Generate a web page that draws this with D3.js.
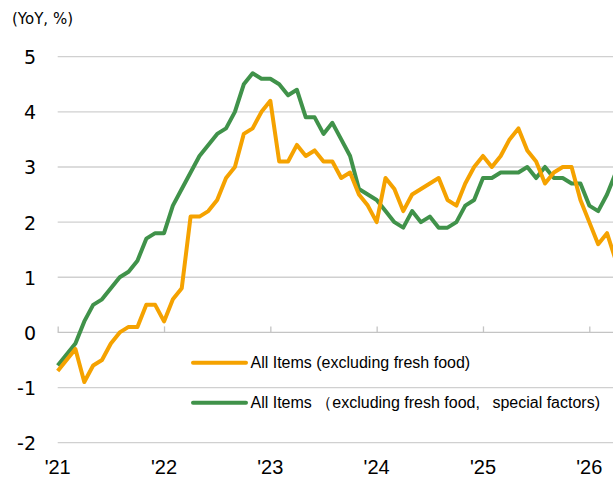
<!DOCTYPE html>
<html>
<head>
<meta charset="utf-8">
<script src="https://cdn.jsdelivr.net/npm/d3@7"></script>
<style>
  body { margin: 0; background: #fff; }
  svg { display: block; }
</style>
</head>
<body>
<svg></svg>
<script>
// monthly, Jan 2021 .. Apr 2026
const coreCPI = [
    -0.7, -0.5, -0.3, -0.9, -0.6, -0.5, -0.2, 0.0, 0.1, 0.1, 0.5, 0.5,
    0.2, 0.6, 0.8, 2.1, 2.1, 2.2, 2.4, 2.8, 3.0, 3.6, 3.7, 4.0,
    4.2, 3.1, 3.1, 3.4, 3.2, 3.3, 3.1, 3.1, 2.8, 2.9, 2.5, 2.3,
    2.0, 2.8, 2.6, 2.2, 2.5, 2.6, 2.7, 2.8, 2.4, 2.3, 2.7, 3.0,
    3.2, 3.0, 3.2, 3.5, 3.7, 3.3, 3.1, 2.7, 2.9, 3.0, 3.0, 2.4,
    2.0, 1.6, 1.8, 1.3
];
const coreExSpecial = [
    -0.6, -0.4, -0.2, 0.2, 0.5, 0.6, 0.8, 1.0, 1.1, 1.3, 1.7, 1.8,
    1.8, 2.3, 2.6, 2.9, 3.2, 3.4, 3.6, 3.7, 4.0, 4.5, 4.7, 4.6,
    4.6, 4.5, 4.3, 4.4, 3.9, 3.9, 3.6, 3.8, 3.5, 3.2, 2.6, 2.5,
    2.4, 2.2, 2.0, 1.9, 2.2, 2.0, 2.1, 1.9, 1.9, 2.0, 2.3, 2.4,
    2.8, 2.8, 2.9, 2.9, 2.9, 3.0, 2.8, 3.0, 2.8, 2.8, 2.7, 2.7,
    2.3, 2.2, 2.5, 2.9
];
const yearLabels = ["'21", "'22", "'23", "'24", "'25", "'26"];
const yTicks = [-2, -1, 0, 1, 2, 3, 4, 5];
const seriesNames = [
    "All Items (excluding fresh food)",
    "All Items （excluding fresh food, \u2002special factors)"
];

const W = 613, H = 477;
const left = 57.7, right = 613;
const orange = "#f5a200", green = "#40924a";

const svg = d3.select("svg").attr("width", W).attr("height", H);

const x = d3.scaleLinear().domain([0, 60]).range([left, 589.3]);
const y = d3.scaleLinear().domain([-2, 5]).range([442.7, 56.7]);

// gridlines
svg.append("g")
    .selectAll("line")
    .data(yTicks.filter(d => d !== 0))
    .enter().append("line")
    .attr("x1", left).attr("x2", right)
    .attr("y1", d => y(d)).attr("y2", d => y(d))
    .attr("stroke", "#d0d0d0")
    .attr("stroke-width", 1.3);

// zero line with year ticks pointing up
const xAxis = d3.axisBottom(x)
    .tickValues(yearLabels.map((d, i) => i * 12))
    .tickSize(-6)
    .tickFormat("");
const ax = svg.append("g")
    .attr("transform", `translate(0,${y(0)})`)
    .call(xAxis);
ax.select(".domain").remove();
ax.selectAll(".tick line").attr("stroke", "#c4c4c4").attr("stroke-width", 1.3);
ax.append("line")
    .attr("x1", left).attr("x2", right)
    .attr("stroke", "#c4c4c4").attr("stroke-width", 1.3);

// year labels at bottom
svg.append("g")
    .selectAll("text")
    .data(yearLabels)
    .enter().append("text")
    .attr("x", (d, i) => x(i * 12))
    .attr("y", 473.5)
    .attr("text-anchor", "middle")
    .attr("font-family", "Liberation Sans, Arial, sans-serif")
    .attr("font-size", 20)
    .attr("fill", "#000")
    .text(d => d);

// y labels
svg.append("g")
    .selectAll("text")
    .data(yTicks)
    .enter().append("text")
    .attr("x", 36)
    .attr("y", d => y(d) + 7.5)
    .attr("text-anchor", "end")
    .attr("font-family", "DejaVu Sans, Verdana, sans-serif")
    .attr("font-size", 19)
    .attr("fill", "#000")
    .text(d => d);

svg.append("text")
    .attr("x", 12).attr("y", 24)
    .attr("font-family", "DejaVu Sans, Verdana, sans-serif")
    .attr("font-size", 15)
    .attr("fill", "#000")
    .text("(YoY, %)");

// lines
const line = d3.line()
    .x((d, i) => x(i))
    .y(d => y(d));

[[coreExSpecial, green], [coreCPI, orange]].forEach(([data, col]) => {
    svg.append("path")
        .datum(data)
        .attr("d", line)
        .attr("fill", "none")
        .attr("stroke", col)
        .attr("stroke-width", 4)
        .attr("stroke-linejoin", "round");
});

// legend
const legend = svg.append("g");
[[seriesNames[0], orange, 362.7], [seriesNames[1], green, 402.7]].forEach(([name, col, ly]) => {
    legend.append("line")
        .attr("x1", 193).attr("x2", 246)
        .attr("y1", ly).attr("y2", ly)
        .attr("stroke", col)
        .attr("stroke-width", 4)
        .attr("stroke-linecap", "round");
    legend.append("text")
        .attr("x", 250.5).attr("y", ly + 5.5)
        .attr("font-family", "Liberation Sans, Arial, sans-serif")
        .attr("font-size", 16)
        .attr("fill", "#000")
        .text(name);
});
</script>
</body>
</html>
